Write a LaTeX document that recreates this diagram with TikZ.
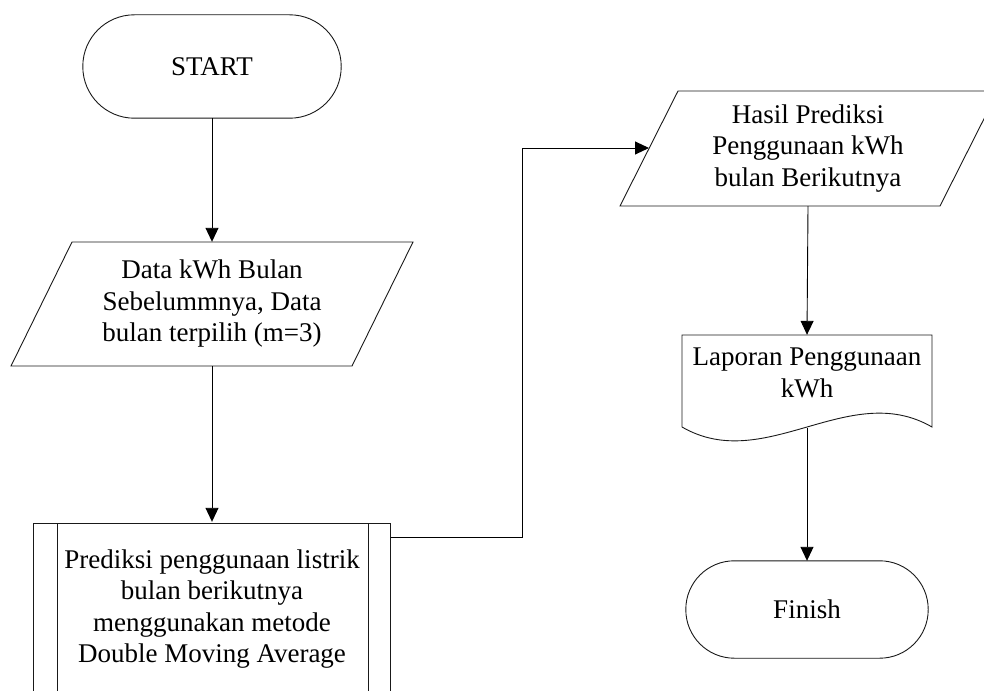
\documentclass[tikz,border=0pt]{standalone}
\usepackage{fontspec}
\setmainfont{Liberation Serif}
\usetikzlibrary{arrows.meta}
\tikzset{
  box/.style={draw=none, inner sep=0pt, align=center, font=\fontsize{27}{31.5}\selectfont},
  outline/.style={draw=black!90, line width=0.9pt},
  flow/.style={draw=black, line width=0.9pt, -{Triangle[length=14pt,width=13pt]}},
}
\begin{document}
\begin{tikzpicture}[x=1pt,y=-1pt]
\useasboundingbox (0,0) rectangle (984,690);
\clip (0,0) rectangle (984,690);

% start terminator
\node[box, minimum width=258pt, minimum height=103pt] (start) at (212,66.5) {START};
\draw[outline, rounded corners=51.5pt] (start.south west) rectangle (start.north east);

% input data
\node[box, minimum width=280pt, minimum height=124pt] (data) at (212,304)
  {Data kWh Bulan\\Sebelummnya, Data\\bulan terpilih (m=3)};
\draw[outline] (72,242) -- (413,242) -- (352,366) -- (11,366) -- cycle;

% predefined process
\node[box, minimum width=357pt, minimum height=174pt] (proc) at (212,609)
  {Prediksi penggunaan listrik\\bulan berikutnya\\menggunakan metode\\Double Moving Average};
\draw[outline] (33,523) rectangle (390,697);
\draw[outline] (57,523) -- (57,697);
\draw[outline] (368,523) -- (368,697);

% output result
\node[box, minimum width=280pt, minimum height=115pt] (hasil) at (808,148.5)
  {Hasil Prediksi\\Penggunaan kWh\\bulan Berikutnya};
\draw[outline] (678,91) -- (998,91) -- (940,206) -- (620,206) -- cycle;
\coordinate (hasilin) at (649,148);

% report document
\node[box, minimum width=250pt, minimum height=76pt] (lap) at (807,373)
  {Laporan Penggunaan\\kWh};
\draw[outline] (682,427) -- (682,335) -- (932,335) -- (932,427)
  .. controls (849,379) and (765,475) .. (682,427);
\coordinate (lapbot) at (807,428);

% finish terminator
\node[box, minimum width=242pt, minimum height=97pt] (finish) at (807,609.5) {Finish};
\draw[outline, rounded corners=48.5pt] (finish.south west) rectangle (finish.north east);

% connectors
\draw[flow] (start.south) -- (data.north);
\draw[flow] (data.south) -- (proc.north);
\draw[flow] ([yshift=72pt]proc.east) -- ++(132,0) |- (hasilin);
\draw[flow] (hasil.south) -- (lap.north);
\draw[flow] (lapbot) -- (finish.north);
\end{tikzpicture}
\end{document}
